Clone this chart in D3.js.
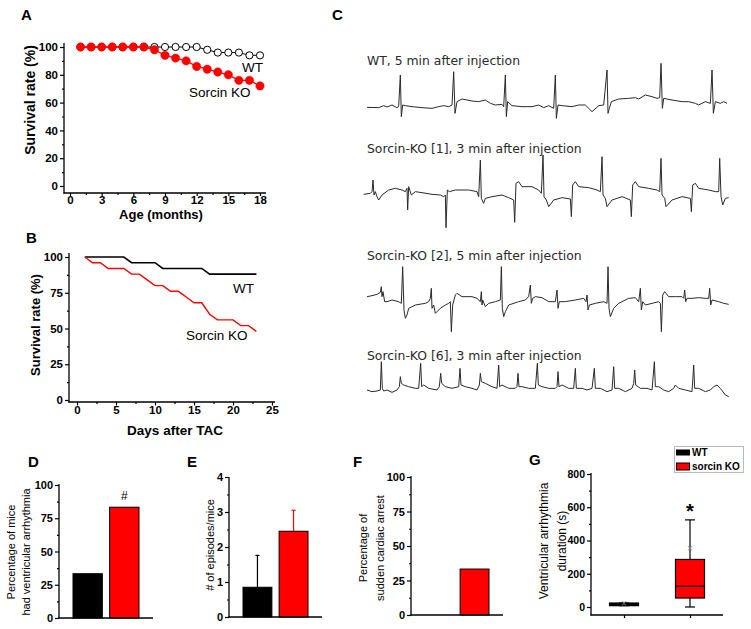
<!DOCTYPE html>
<html><head><meta charset="utf-8">
<script src="https://cdn.jsdelivr.net/npm/d3@7"></script>
<style>body{margin:0;background:#fff}svg{display:block}</style>
</head><body><svg id="fig" width="751" height="629"></svg>
<script>
// ---------------- DATA ----------------
const ageMonths = [1,2,3,4,5,6,7,8,9,10,11,12,13,14,15,16,17,18];
const survAgeWT = [100,100,100,100,100,100,100,100,100,100,100,100,98,96,96,96,94,94];
const survAgeKO = [100,100,100,100,100,100,100,98,94,92,90,86,84,82,80,76,76,72];
const ageTicks = [0,3,6,9,12,15,18];
const survTicks = [0,20,40,60,80,100];

const tacDays = [1,2,3,4,5,6,7,8,9,10,11,12,13,14,15,16,17,18,19,20,21,22,23];
const survTacWT = [100,100,100,100,100,100,96,96,96,96,92,92,92,92,92,92,88,88,88,88,88,88,88];
const survTacKO = [100,96,96,92,92,92,88,88,84,80,80,76,76,72,68,68,60,56,56,56,52,52,48];
const dayTicks = [0,5,10,15,20,25];
const survTacTicks = [0,25,50,75,100];

const groups = ["WT","sorcin KO"];
const arrhythmiaPct = [33.3, 83.3];
const episodesMean = [0.85, 2.45];
const episodesErr = [0.91, 0.6];
const arrestPct = [0, 33.3];
const durationBox = [
  {min:8, q1:8, median:16, q3:24, max:24, mean:24},
  {min:0, q1:54, median:125, q3:286, max:524, mean:349}
];

const ecgTitles = ["WT, 5 min after injection","Sorcin-KO [1], 3 min after injection","Sorcin-KO [2], 5 min after injection","Sorcin-KO [6], 3 min after injection"];
// [time (ms), amplitude (a.u.)]
const ecgWT = [[15,-2],[50,-3],[65,3],[75,-1],[90,5],[105,-3],[110,0],[115,95],[118,-30],[122,5],[130,3],[150,0],[180,-3],[210,-5],[230,0],[245,3],[260,0],[270,5],[275,105],[279,-20],[285,15],[300,23],[330,17],[350,15],[370,20],[385,10],[400,5],[420,7],[425,0],[430,95],[433,-30],[437,15],[450,3],[480,0],[510,0],[530,5],[545,-3],[560,3],[575,-5],[580,95],[583,-35],[588,5],[600,3],[630,0],[650,5],[670,5],[690,-15],[710,3],[725,5],[735,110],[738,-20],[742,-5],[748,15],[770,23],[800,25],[820,27],[830,23],[850,35],[870,30],[885,25],[893,27],[897,130],[901,-5],[905,25],[930,20],[960,15],[980,15],[1000,10],[1010,5],[1030,15],[1045,10],[1050,110],[1054,-20],[1060,15],[1075,10],[1085,15],[1095,10]];
const ecgKO1 = [[5,-3],[25,0],[30,5],[33,40],[36,-5],[40,5],[45,-10],[50,-20],[60,-5],[80,10],[100,15],[120,10],[130,5],[135,15],[137,-50],[140,20],[148,-5],[160,5],[180,2],[210,-3],[235,-5],[245,-10],[250,-5],[252,-103],[256,10],[262,5],[280,10],[320,10],[345,5],[350,-10],[355,100],[358,-15],[365,-30],[370,-15],[390,-10],[420,-5],[440,-13],[455,-20],[458,-87],[462,30],[470,35],[480,20],[510,20],[530,10],[538,0],[543,115],[546,-10],[553,-20],[560,-40],[575,-20],[600,-13],[625,-17],[628,-70],[632,25],[640,35],[650,20],[680,17],[705,10],[715,5],[720,110],[723,-5],[730,-15],[735,-40],[750,-20],[780,-10],[805,-20],[808,-70],[812,25],[820,35],[830,20],[860,15],[885,10],[893,5],[897,105],[900,-5],[908,-15],[912,-40],[930,-20],[960,-10],[985,-15],[988,-55],[992,25],[1000,30],[1010,15],[1040,10],[1060,5],[1070,5],[1073,105],[1077,-10],[1082,-35],[1090,-15],[1100,-13]];
const ecgKO2 = [[15,0],[30,3],[45,7],[55,13],[58,30],[60,0],[63,15],[68,-15],[75,-15],[90,-10],[110,-15],[118,-20],[122,90],[126,-40],[130,-65],[135,-55],[140,-35],[160,-25],[190,-20],[200,-15],[205,-5],[208,25],[210,-35],[215,-25],[220,-50],[235,-35],[250,-25],[260,-20],[265,-15],[268,-105],[272,-25],[280,5],[285,10],[300,0],[330,0],[345,-5],[355,-15],[358,15],[360,-25],[362,-10],[370,-30],[380,-20],[400,-15],[415,-10],[418,90],[421,-35],[425,-60],[430,-45],[440,-25],[470,-15],[490,-10],[500,0],[505,35],[508,-20],[512,-5],[520,0],[540,-3],[560,-15],[580,-15],[585,20],[588,-35],[592,-15],[610,-15],[640,-10],[665,-5],[672,-15],[675,5],[678,-40],[682,-25],[700,-20],[725,-15],[735,-20],[738,90],[741,-35],[745,-60],[755,-35],[770,-20],[800,-5],[820,-3],[830,-15],[835,25],[838,-40],[842,-15],[850,-25],[870,-20],[890,-15],[895,-20],[898,-105],[902,5],[908,15],[920,0],[940,0],[960,0],[965,-5],[968,20],[971,-15],[975,-5],[990,-5],[1010,-3],[1030,-5],[1040,-5],[1043,25],[1046,-25],[1050,-10],[1070,-15],[1085,-20],[1100,-23]];
const ecgKO6 = [[15,5],[30,0],[45,2],[55,5],[58,90],[61,10],[65,2],[75,5],[90,-2],[105,5],[112,15],[115,45],[118,25],[125,20],[140,15],[160,10],[170,10],[176,85],[179,15],[185,20],[200,10],[225,5],[232,15],[236,55],[239,25],[250,15],[270,10],[290,15],[294,70],[297,20],[310,15],[330,10],[345,5],[352,20],[355,55],[358,30],[370,25],[390,15],[405,10],[410,80],[413,15],[420,20],[440,10],[460,10],[465,15],[468,55],[471,15],[480,15],[500,10],[520,10],[526,85],[529,20],[540,15],[560,10],[580,10],[585,15],[588,60],[591,15],[600,20],[620,10],[635,10],[640,70],[643,10],[660,10],[675,5],[690,10],[697,70],[700,10],[715,10],[735,0],[750,5],[755,75],[758,10],[770,10],[790,0],[810,10],[815,25],[818,65],[821,20],[835,10],[855,10],[870,5],[877,90],[880,15],[890,15],[905,5],[920,0],[935,10],[940,20],[950,10],[970,5],[990,0],[995,80],[998,10],[1010,10],[1030,0],[1045,5],[1055,15],[1065,20],[1075,10],[1090,-10],[1100,-15]];

// ---------------- DRAWING ----------------
const svg = d3.select("#fig");
const FONT = '"Liberation Sans", Arial, Helvetica, sans-serif';
const RED = "#ff0000";
const fmt = d3.format("~g");

function txt(x, y, s, size, opts = {}) {
  return svg.append("text").attr("x", x).attr("y", y).text(s)
    .attr("font-family", opts.family || FONT).attr("font-size", size)
    .attr("font-weight", opts.weight || "normal").attr("fill", opts.fill || "#000")
    .attr("text-anchor", opts.anchor || "start");
}
function vtxt(x, cy, s, size, opts = {}) {
  svg.append("text").attr("transform", `translate(${x},${cy}) rotate(-90)`)
    .attr("text-anchor", "middle").attr("font-family", FONT).attr("font-size", size)
    .attr("font-weight", opts.weight || "normal").attr("fill", "#000").text(s);
}
function styleAxis(g, size) {
  g.select(".domain").remove();
  g.selectAll("line").attr("stroke", "#000").attr("stroke-width", 1.2);
  g.selectAll("text").attr("font-family", FONT).attr("font-weight", "bold")
    .attr("font-size", size).attr("fill", "#000");
}
function axisY(x, scale, majors, minors, y0, y1, size, tick = 4) {
  svg.append("line").attr("x1", x).attr("x2", x).attr("y1", y0).attr("y2", y1)
    .attr("stroke", "#000").attr("stroke-width", 1.3);
  const g = svg.append("g").attr("transform", `translate(${x},0)`)
    .call(d3.axisLeft(scale).tickValues(majors).tickFormat(fmt).tickSize(tick).tickPadding(2));
  styleAxis(g, size);
  if (minors) {
    const m = svg.append("g").attr("transform", `translate(${x},0)`)
      .call(d3.axisLeft(scale).tickValues(minors).tickSize(2).tickFormat(""));
    styleAxis(m, size);
  }
}
function axisX(y, scale, majors, minors, x0, x1, size, tick = 4, pad = 1, showLabels = true) {
  svg.append("line").attr("y1", y).attr("y2", y).attr("x1", x0).attr("x2", x1)
    .attr("stroke", "#000").attr("stroke-width", 1.3);
  if (!majors) return;
  const ax = d3.axisBottom(scale).tickValues(majors).tickSize(tick).tickPadding(pad);
  ax.tickFormat(showLabels ? fmt : "");
  const g = svg.append("g").attr("transform", `translate(0,${y})`).call(ax);
  styleAxis(g, size);
  if (minors) {
    const m = svg.append("g").attr("transform", `translate(0,${y})`)
      .call(d3.axisBottom(scale).tickValues(minors).tickSize(2).tickFormat(""));
    styleAxis(m, size);
  }
}
function mids(arr) { const o = []; for (let i = 0; i < arr.length - 1; i++) o.push((arr[i] + arr[i + 1]) / 2); return o; }

// ===== Panel A =====
txt(21, 20, "A", 15, {weight: "bold"});
const xA = d3.scaleLinear([0, 18], [70, 260]);
const yA = d3.scaleLinear([0, 100], [186, 47]);
axisY(64, yA, survTicks, mids(survTicks), 43, 193.6, 11.5);
axisX(193, xA, ageTicks, mids(ageTicks), 63.4, 266, 11.5, 3, 0);
vtxt(35, 100, "Survival rate (%)", 14, {weight: "bold"});
txt(161, 219, "Age (months)", 13, {weight: "bold", anchor: "middle"});
const lineA = (vals) => d3.line().x((d, i) => xA(ageMonths[i])).y(d => yA(d))(vals);
svg.append("path").attr("d", lineA(survAgeWT)).attr("fill", "none").attr("stroke", "#000").attr("stroke-width", 1);
svg.selectAll(null).data(survAgeWT).join("circle").attr("cx", (d, i) => xA(ageMonths[i])).attr("cy", d => yA(d))
  .attr("r", 3.6).attr("fill", "#fff").attr("stroke", "#000").attr("stroke-width", 1);
svg.append("path").attr("d", lineA(survAgeKO)).attr("fill", "none").attr("stroke", RED).attr("stroke-width", 1.3);
svg.selectAll(null).data(survAgeKO).join("circle").attr("cx", (d, i) => xA(ageMonths[i])).attr("cy", d => yA(d))
  .attr("r", 4.2).attr("fill", RED).attr("stroke", RED).attr("stroke-width", 0.5);
txt(242, 72, "WT", 13.5);
txt(189, 97, "Sorcin KO", 13.5);

// ===== Panel B =====
txt(26, 243, "B", 15, {weight: "bold"});
const xB = d3.scaleLinear([0, 25], [77, 272]);
const yB = d3.scaleLinear([0, 100], [400, 257]);
axisY(69, yB, survTacTicks, mids(survTacTicks), 253, 402.6, 11.5);
axisX(402, xB, dayTicks, mids(dayTicks), 68.4, 275, 11.5, 3.5, 0.5);
vtxt(40, 325, "Survival rate (%)", 13, {weight: "bold"});
txt(175, 435, "Days after TAC", 13.5, {weight: "bold", anchor: "middle"});
const lineB = (vals) => d3.line().x((d, i) => xB(tacDays[i])).y(d => yB(d))(vals);
svg.append("path").attr("d", lineB(survTacWT)).attr("fill", "none").attr("stroke", "#000").attr("stroke-width", 1.6);
svg.append("path").attr("d", lineB(survTacKO)).attr("fill", "none").attr("stroke", RED).attr("stroke-width", 1.4);
txt(233, 293, "WT", 13.5);
txt(186, 340, "Sorcin KO", 13.5);

// ===== Panel C =====
txt(332, 20, "C", 15, {weight: "bold"});
const xC = d3.scaleLinear([0, 1100], [362, 728.7]);
const traces = [
  {data: ecgWT, dom: [-55, 155], rng: [125, 55], ty: 65},
  {data: ecgKO1, dom: [-125, 145], rng: [235, 145], ty: 153},
  {data: ecgKO2, dom: [-130, 125], rng: [340, 255], ty: 260},
  {data: ecgKO6, dom: [-55, 110], rng: [410, 355], ty: 360}
];
traces.forEach((tr, k) => {
  const y = d3.scaleLinear(tr.dom, tr.rng);
  svg.append("path").attr("d", d3.line().x(d => xC(d[0])).y(d => y(d[1]))(tr.data))
    .attr("fill", "none").attr("stroke", "#2a2a2a").attr("stroke-width", 1).attr("stroke-linejoin", "round");
  txt(367, tr.ty, ecgTitles[k], 12.4, {family: '"DejaVu Sans", Verdana, sans-serif', fill: "#2a2a2a"});
});

// ===== Panel D =====
txt(28, 467, "D", 15, {weight: "bold"});
const yD = d3.scaleLinear([0, 100], [618, 485]);
const xD = d3.scaleBand(groups, [73, 139]).paddingInner(0.2);
svg.selectAll(null).data(arrhythmiaPct).join("rect")
  .attr("x", (d, i) => xD(groups[i])).attr("width", xD.bandwidth())
  .attr("y", d => yD(d)).attr("height", d => yD(0) - yD(d))
  .attr("fill", (d, i) => i ? RED : "#000").attr("stroke", "#000").attr("stroke-width", 1);
axisY(59, yD, [0, 25, 50, 75, 100], [12.5, 37.5, 62.5, 87.5], 484, 618.6, 11);
axisX(618, null, null, null, 58.4, 153, 11);
txt(xD(groups[1]) + xD.bandwidth() / 2, 500, "#", 12, {anchor: "middle"});
vtxt(15, 552, "Percentage of mice", 11);
vtxt(30, 552, "had ventricular arrhythmia", 11);

// ===== Panel E =====
txt(187, 467, "E", 15, {weight: "bold"});
const yE = d3.scaleLinear([0, 4], [617, 477]);
const xE = d3.scaleBand(groups, [243, 308]).paddingInner(0.2);
episodesMean.forEach((m, i) => {
  const cx = xE(groups[i]) + xE.bandwidth() / 2;
  const col = i ? RED : "#000";
  svg.append("line").attr("x1", cx).attr("x2", cx).attr("y1", yE(m)).attr("y2", yE(m + episodesErr[i])).attr("stroke", col).attr("stroke-width", 1.2);
  svg.append("line").attr("x1", cx - 2).attr("x2", cx + 2).attr("y1", yE(m + episodesErr[i])).attr("y2", yE(m + episodesErr[i])).attr("stroke", col).attr("stroke-width", 1.2);
});
svg.selectAll(null).data(episodesMean).join("rect")
  .attr("x", (d, i) => xE(groups[i])).attr("width", xE.bandwidth())
  .attr("y", d => yE(d)).attr("height", d => yE(0) - yE(d))
  .attr("fill", (d, i) => i ? RED : "#000").attr("stroke", "#000").attr("stroke-width", 1);
axisY(229, yE, [0, 1, 2, 3, 4], [0.5, 1.5, 2.5, 3.5], 477, 617.6, 11);
axisX(617, null, null, null, 228.4, 322, 11);
vtxt(214, 545, "# of episodes/mice", 11);

// ===== Panel F =====
txt(353, 467, "F", 15, {weight: "bold"});
const yF = d3.scaleLinear([0, 100], [615, 477]);
const xF = d3.scaleBand(groups, [424, 489]).paddingInner(0.2);
svg.selectAll(null).data(arrestPct).join("rect")
  .attr("x", (d, i) => xF(groups[i])).attr("width", xF.bandwidth())
  .attr("y", d => yF(d)).attr("height", d => yF(0) - yF(d))
  .attr("fill", (d, i) => i ? RED : "#000").attr("stroke", "#000").attr("stroke-width", d => d > 0 ? 1 : 0);
axisY(411, yF, [0, 25, 50, 75, 100], [12.5, 37.5, 62.5, 87.5], 476, 615.6, 11);
axisX(615, null, null, null, 410.4, 503, 11);
vtxt(367, 548, "Percentage of", 11);
vtxt(384, 548, "sudden cardiac arrest", 11);

// ===== Panel G =====
txt(529, 465, "G", 15, {weight: "bold"});
const yG = d3.scaleLinear([0, 800], [607, 474]);
const xG = d3.scalePoint(groups, [624, 690]);
axisY(591, yG, [0, 200, 400, 600, 800], [100, 300, 500, 700], 473, 615.6, 10.5);
axisX(615, xG, groups, null, 590.4, 723, 10.5, 3, 1, false);
vtxt(548, 541, "Ventricular arrhythmia", 12);
vtxt(566, 541, "duration (s)", 12);
const bw = 29;
durationBox.forEach((b, i) => {
  const cx = xG(groups[i]);
  const col = i ? RED : "#000";
  svg.append("line").attr("x1", cx).attr("x2", cx).attr("y1", yG(b.min)).attr("y2", yG(b.max)).attr("stroke", "#000").attr("stroke-width", 1.2);
  [b.min, b.max].forEach(v => svg.append("line").attr("x1", cx - 5).attr("x2", cx + 5).attr("y1", yG(v)).attr("y2", yG(v)).attr("stroke", "#000").attr("stroke-width", 1.2));
  svg.append("rect").attr("x", cx - bw / 2).attr("width", bw).attr("y", yG(b.q3)).attr("height", yG(b.q1) - yG(b.q3))
    .attr("fill", col).attr("stroke", "#000").attr("stroke-width", 1.2);
  svg.append("line").attr("x1", cx - bw / 2).attr("x2", cx + bw / 2).attr("y1", yG(b.median)).attr("y2", yG(b.median)).attr("stroke", "#000").attr("stroke-width", 1.2);
  txt(cx, yG(b.mean) + 3.5, "×", 10, {anchor: "middle", fill: "#888"});
});
txt(xG(groups[1]), 518, "*", 20, {anchor: "middle", weight: "bold"});
// legend
svg.append("rect").attr("x", 674.5).attr("y", 446.5).attr("width", 69).attr("height", 26).attr("fill", "#fff").attr("stroke", "#bbb").attr("stroke-width", 1);
groups.forEach((g, i) => {
  const ly = 450 + i * 13.5;
  svg.append("rect").attr("x", 676.5).attr("y", i ? ly - 0.5 : ly).attr("width", 13).attr("height", i ? 7 : 5)
    .attr("fill", i ? RED : "#000").attr("stroke", "#000").attr("stroke-width", 1);
  txt(692, ly + 6, g, 10, {weight: "bold"});
});
</script></body></html>
